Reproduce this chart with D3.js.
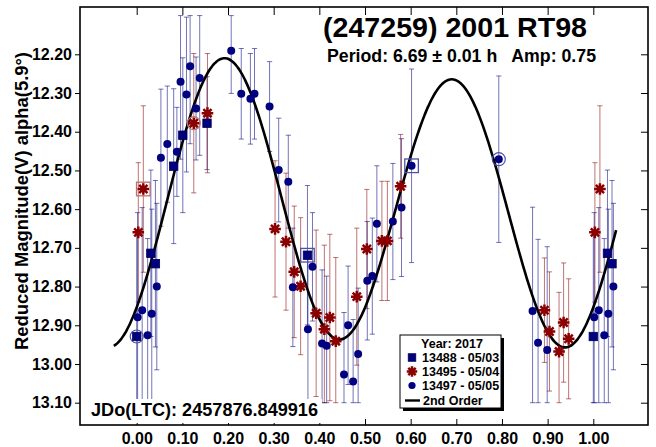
<!DOCTYPE html>
<html><head><meta charset="utf-8">
<script src="https://cdn.jsdelivr.net/npm/d3@7"></script>
<style>
html,body{margin:0;padding:0;background:#fff;}
svg{display:block;font-family:"Liberation Sans",Arial,sans-serif;font-weight:bold;}
</style></head><body>
<svg id="chart" width="656" height="447"></svg>
<script>
// Session 13488 (2017-05-03): squares
const s13488Phase = [0.000, 0.031, 0.041, 0.081, 0.101, 0.154, 0.374];
const s13488Mag   = [12.929, 12.714, 12.741, 12.489, 12.409, 12.378, 12.719];
const s13488Err   = [0.27, 0.215, 0.215, 0.20, 0.20, 0.12, 0.18];
const s13488Mark  = ["ring", "", "", "", "", "", "box"];

// Session 13495 (2017-05-04): stars
const s13495Phase = [0.0035, 0.0145, 0.125, 0.155, 0.303, 0.327, 0.345, 0.359, 0.393, 0.411, 0.423,
                     0.436, 0.482, 0.504, 0.537, 0.549, 0.578, 0.893, 0.904, 0.925, 0.935, 0.946];
const s13495Mag   = [12.660, 12.548, 12.378, 12.352, 12.651, 12.684, 12.762, 12.799, 12.869, 12.910, 12.880,
                     12.941, 12.826, 12.703, 12.682, 12.682, 12.541, 12.861, 12.916, 12.968, 12.893, 12.935];
const s13495Err   = [0.18, 0.215, 0.18, 0.154, 0.176, 0.177, 0.17, 0.177, 0.215, 0.217, 0.215,
                     0.216, 0.177, 0.154, 0.154, 0.154, 0.134, 0.135, 0.154, 0.153, 0.154, 0.155];
const s13495Mark  = ["", "box", "ring", "", "", "", "", "", "", "", "",
                     "", "", "", "", "", "", "", "", "", "", ""];

// Session 13497 (2017-05-05): dots
const s13497Phase = [0.002, 0.012, 0.024, 0.033, 0.044, 0.053, 0.067, 0.088, 0.096, 0.109, 0.117, 0.130, 0.138,
                     0.207, 0.229, 0.249, 0.258, 0.291, 0.311, 0.332, 0.342, 0.375, 0.385, 0.406, 0.416,
                     0.454, 0.463, 0.474, 0.485, 0.505, 0.516, 0.526, 0.561, 0.580, 0.602, 0.793,
                     0.867, 0.879, 0.899];
const s13497Mag   = [12.879, 12.861, 12.926, 12.870, 12.800, 12.467, 12.432, 12.452, 12.271, 12.304, 12.231, 12.340, 12.261,
                     12.191, 12.302, 12.315, 12.302, 12.335, 12.499, 12.529, 12.802, 12.910, 12.749, 12.947, 12.953,
                     13.027, 12.900, 13.045, 12.974, 12.785, 12.773, 12.638, 12.632, 12.596, 12.488, 12.471,
                     12.863, 12.945, 12.964];
const s13497Err   = [0.27, 0.265, 0.25, 0.27, 0.215, 0.177, 0.15, 0.115, 0.2, 0.2, 0.2, 0.133, 0.2,
                     0.11, 0.117, 0.117, 0.117, 0.116, 0.134, 0.12, 0.153, 0.2, 0.14, 0.19, 0.18,
                     0.16, 0.153, 0.16, 0.17, 0.153, 0.15, 0.15, 0.15, 0.178, 0.25, 0.215,
                     0.268, 0.267, 0.267];
const s13497Mark  = s13497Phase.map(() => "");
s13497Mark[34] = "box";
s13497Mark[35] = "ring";

// 2nd-order Fourier fit: c0, a1, b1, a2, b2
const fitCoefficients = [12.592, -0.0003, -0.029, 0.262, -0.239];
const fitPhaseRange = [-0.05, 1.05];

const xTicks = [0, 0.1, 0.2, 0.3, 0.4, 0.5, 0.6, 0.7, 0.8, 0.9, 1.0];
const yTicks = [12.2, 12.3, 12.4, 12.5, 12.6, 12.7, 12.8, 12.9, 13.0, 13.1];
const barLimits = [12.10, 13.10];   // error bars are cut at the labelled range

const titleText = "(247259) 2001 RT98";
const periodText = "Period: 6.69 \u00B1 0.01 h   Amp: 0.75";
const epochText = "JDo(LTC): 2457876.849916";
const yAxisText = "Reduced Magnitude(V) alpha(5.9\u00B0)";
const legendTitle = "Year: 2017";
const fitLabel = "2nd Order";

const NAVY = "#000080", DARKRED = "#8b0000";

const svg = d3.select("#chart");
const frame = {left: 80, right: 648, top: 7, bottom: 425};
const x = d3.scaleLinear().domain([0, 1]).range([136.7, 593.3]);
const y = d3.scaleLinear().domain([12.2, 13.1]).range([54.3, 402.7]);

const series = [
  {label: "13488 - 05/03", shape: "square", color: NAVY, phase: s13488Phase, mag: s13488Mag, err: s13488Err, mark: s13488Mark},
  {label: "13495 - 05/04", shape: "star", color: DARKRED, phase: s13495Phase, mag: s13495Mag, err: s13495Err, mark: s13495Mark},
  {label: "13497 - 05/05", shape: "circle", color: NAVY, phase: s13497Phase, mag: s13497Mag, err: s13497Err, mark: s13497Mark}
];

// phase-folded: the first few points are shown again past 1.0
function points(s) {
  const pts = s.phase.map((p, i) => ({p, m: s.mag[i], e: s.err[i], mark: s.mark[i]}));
  const repeat = pts.filter(d => d.p < 0.05).map(d => ({p: d.p + 1, m: d.m, e: d.e, mark: ""}));
  return pts.concat(repeat);
}

function starPath(r) {
  let d = "";
  for (let k = 0; k < 4; k++) {
    const a = k * Math.PI / 4, dx = r * Math.cos(a), dy = r * Math.sin(a);
    d += `M${-dx},${-dy}L${dx},${dy}`;
  }
  return d;
}

function drawMarker(g, shape, color, cx, cy, scale = 1) {
  if (shape === "square") {
    const h = 4.2 * scale;
    g.append("rect").attr("x", cx - h).attr("y", cy - h).attr("width", 2 * h).attr("height", 2 * h)
      .attr("fill", color).attr("stroke", "#000050").attr("stroke-width", 0.8);
  } else if (shape === "circle") {
    g.append("circle").attr("cx", cx).attr("cy", cy).attr("r", 4 * scale).attr("fill", color);
  } else {
    g.append("path").attr("transform", `translate(${cx},${cy})`).attr("d", starPath(5.8 * scale))
      .attr("stroke", color).attr("stroke-width", 2.5).attr("fill", "none");
    g.append("circle").attr("cx", cx).attr("cy", cy).attr("r", 2.4 * scale).attr("fill", color);
  }
}

// frame
svg.append("rect").attr("x", frame.left).attr("y", frame.top)
  .attr("width", frame.right - frame.left).attr("height", frame.bottom - frame.top)
  .attr("fill", "none").attr("stroke", "#000").attr("stroke-width", 1.6);

// axes
const fmt = d3.format(".2f");
const gLeft = svg.append("g").attr("transform", `translate(${frame.left},0)`)
  .call(d3.axisLeft(y).tickValues(yTicks).tickSize(5).tickPadding(3).tickFormat(fmt));
const gBottom = svg.append("g").attr("transform", `translate(0,${frame.bottom})`)
  .call(d3.axisBottom(x).tickValues(xTicks).tickSize(-6).tickPadding(8).tickFormat(fmt));
const gTop = svg.append("g").attr("transform", `translate(0,${frame.top})`)
  .call(d3.axisTop(x).tickValues(xTicks).tickSize(-8).tickFormat(""));
const gRight = svg.append("g").attr("transform", `translate(${frame.right},0)`)
  .call(d3.axisRight(y).tickValues(yTicks).tickSize(-7).tickFormat(""));
[gLeft, gBottom, gTop, gRight].forEach(g => {
  g.select(".domain").remove();
  g.selectAll(".tick line").attr("stroke", "#000").attr("stroke-width", 1);
  g.selectAll(".tick text").attr("fill", "#000").attr("font-size", 16)
    .attr("font-family", '"Liberation Sans",Arial,sans-serif').attr("font-weight", "bold");
});

// y-axis title
svg.append("text").attr("transform", "translate(28,201) rotate(-90)")
  .attr("text-anchor", "middle").attr("font-size", 17.5)
  .attr("textLength", 298).attr("lengthAdjust", "spacingAndGlyphs").text(yAxisText);

// plot contents
const plot = svg.append("g");
const clampM = m => Math.max(barLimits[0], Math.min(barLimits[1], m));

// error bars
series.forEach(s => {
  const g = plot.append("g").attr("stroke", s.color).attr("stroke-opacity", 0.55).attr("stroke-width", 1);
  points(s).forEach(d => {
    const y1 = y(clampM(d.m - d.e)), y2 = y(clampM(d.m + d.e)), cx = x(d.p);
    g.append("path").attr("fill", "none")
      .attr("d", `M${cx},${y1}V${y2}M${cx - 2.6},${y1}H${cx + 2.6}M${cx - 2.6},${y2}H${cx + 2.6}`);
  });
});

// fit curve
const fit = p => {
  const [c0, a1, b1, a2, b2] = fitCoefficients, t = 2 * Math.PI * p;
  return c0 + a1 * Math.cos(t) + b1 * Math.sin(t) + a2 * Math.cos(2 * t) + b2 * Math.sin(2 * t);
};
const fitPhases = d3.range(fitPhaseRange[0], fitPhaseRange[1] + 1e-9, 0.004);
plot.append("path").datum(fitPhases)
  .attr("d", d3.line().x(p => x(p)).y(p => y(fit(p))).curve(d3.curveMonotoneX))
  .attr("fill", "none").attr("stroke", "#000").attr("stroke-width", 2.6);

// markers
series.forEach(s => {
  const g = plot.append("g");
  points(s).forEach(d => {
    const cx = x(d.p), cy = y(d.m);
    drawMarker(g, s.shape, s.color, cx, cy);
    if (d.mark === "ring") {
      g.append("circle").attr("cx", cx).attr("cy", cy).attr("r", 6.5)
        .attr("fill", "none").attr("stroke", s.shape === "star" ? "#c07070" : "#5050a8").attr("stroke-width", 1.2);
    } else if (d.mark === "box") {
      g.append("rect").attr("x", cx - 6.8).attr("y", cy - 6.8).attr("width", 13.6).attr("height", 13.6)
        .attr("fill", "none").attr("stroke", s.shape === "star" ? "#c07070" : "#5050a8").attr("stroke-width", 1.3);
    }
  });
});

// title block
svg.append("text").attr("x", 323).attr("y", 37).attr("font-size", 28)
  .attr("textLength", 264).attr("lengthAdjust", "spacingAndGlyphs").text(titleText);
svg.append("text").attr("x", 327).attr("y", 62).attr("font-size", 17.5)
  .attr("textLength", 269).attr("lengthAdjust", "spacingAndGlyphs").attr("xml:space", "preserve")
  .style("white-space", "pre").text(periodText);

// epoch label
svg.append("rect").attr("x", 82).attr("y", 399).attr("width", 240).attr("height", 24).attr("fill", "#fff");
svg.append("text").attr("x", 91).attr("y", 416).attr("font-size", 18)
  .attr("textLength", 227).attr("lengthAdjust", "spacingAndGlyphs").text(epochText);

// legend
const lg = svg.append("g").attr("transform", "translate(400,335)");
lg.append("rect").attr("x", 3).attr("y", 3).attr("width", 101).attr("height", 73).attr("fill", "#000");
lg.append("rect").attr("x", 0).attr("y", 0).attr("width", 101).attr("height", 73)
  .attr("fill", "#fff").attr("stroke", "#000").attr("stroke-width", 1);
lg.append("text").attr("x", 52).attr("y", 12.5).attr("text-anchor", "middle").attr("font-size", 12.5).text(legendTitle);
series.forEach((s, i) => {
  const yy = 27 + i * 14;
  drawMarker(lg, s.shape, s.color, 12, yy - 4.5, 0.9);
  lg.append("text").attr("x", 22).attr("y", yy).attr("font-size", 12.5).text(s.label);
});
lg.append("line").attr("x1", 5).attr("x2", 20).attr("y1", 65.5).attr("y2", 65.5)
  .attr("stroke", "#000").attr("stroke-width", 2.4);
lg.append("text").attr("x", 23).attr("y", 69.5).attr("font-size", 12.5).text(fitLabel);
</script>
</body></html>
